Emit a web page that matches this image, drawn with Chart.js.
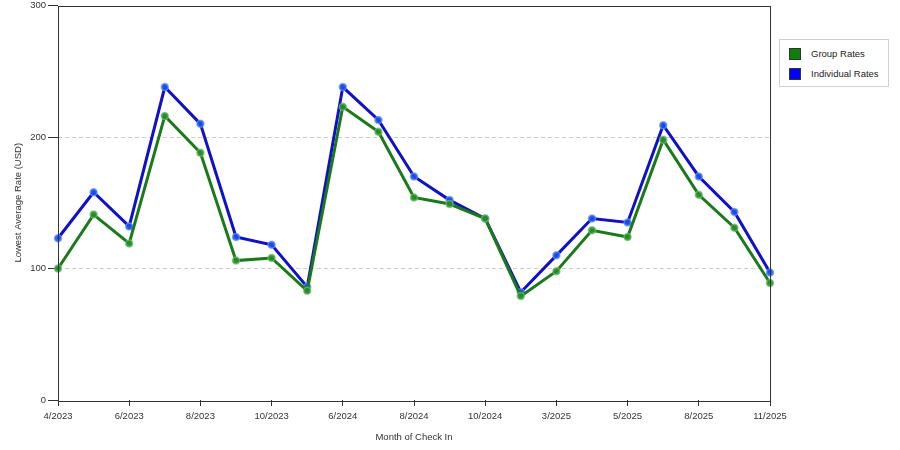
<!DOCTYPE html>
<html>
<head>
<meta charset="utf-8">
<script src="https://cdn.jsdelivr.net/npm/chart.js@4.4.1/dist/chart.umd.min.js"></script>
<style>
    body { margin: 0; background: #fff; }
    #wrap { position: relative; width: 900px; height: 450px; }
    #legend {
        position: absolute; left: 779px; top: 39px; width: 108px; height: 46px;
        border: 1px solid #d0d0d0; background: #fff;
        font: 9.5px "Liberation Sans", Arial, sans-serif; color: #222;
    }
    .item { position: absolute; left: 9px; height: 12px; line-height: 12px; }
    .box { position: absolute; left: 0; top: 0; width: 12px; height: 12px; box-sizing: border-box; border: 1px solid #333; }
    .item span { position: absolute; left: 22px; top: 0; white-space: nowrap; }
</style>
</head>
<body>
<div id="wrap">
    <canvas id="chart" width="900" height="450"></canvas>
    <div id="legend">
        <div class="item" style="top:8px"><div class="box" style="background:#0b800b"></div><span>Group Rates</span></div>
        <div class="item" style="top:28px"><div class="box" style="background:#0000ff"></div><span>Individual Rates</span></div>
    </div>
</div>
<script>
// months of check in (only every other label is printed on the axis)
const months = [
    "4/2023", "5/2023", "6/2023", "7/2023", "8/2023", "9/2023", "10/2023", "11/2023",
    "6/2024", "7/2024", "8/2024", "9/2024", "10/2024", "12/2024",
    "3/2025", "4/2025", "5/2025", "7/2025", "8/2025", "10/2025", "11/2025"
];

const groupRates = [
    100, 141, 119, 216, 188, 106, 108, 83,
    223, 204, 154, 149, 138, 79,
    98, 129, 124, 198, 156, 131, 89
];

const individualRates = [
    123, 158, 132, 238, 210, 124, 118, 86,
    238, 213, 170, 152, 138, 82,
    110, 138, 135, 209, 170, 143, 97
];

const yTicks = [0, 100, 200, 300];

const FONT = { family: "'Liberation Sans', Arial, sans-serif", size: 9.5 };

// solid frame around the plot area
const frame = {
    id: "frame",
    afterDraw (chart) {
        const { ctx, chartArea: a } = chart;
        ctx.save();
        ctx.strokeStyle = "#333";
        ctx.lineWidth = 1;
        ctx.strokeRect(Math.round(a.left) + 0.5, Math.round(a.top) + 0.5,
            Math.round(a.right - a.left), Math.round(a.bottom - a.top));
        ctx.restore();
    }
};

new Chart(document.getElementById("chart").getContext("2d"), {
    type: "line",
    data: {
        labels: months,
        datasets: [{
            label: "Group Rates",
            data: groupRates,
            borderColor: "#1a7a1a",
            borderWidth: 3,
            pointRadius: 3.5,
            pointBorderWidth: 1.5,
            pointBackgroundColor: "rgba(40,140,40,0.9)",
            pointBorderColor: "rgba(110,190,110,0.7)",
            fill: false,
            tension: 0,
            clip: false
        }, {
            label: "Individual Rates",
            data: individualRates,
            borderColor: "#1010c8",
            borderWidth: 3,
            pointRadius: 3.5,
            pointBorderWidth: 1.5,
            pointBackgroundColor: "rgba(30,80,230,0.9)",
            pointBorderColor: "rgba(100,150,255,0.7)",
            fill: false,
            tension: 0,
            clip: false
        }]
    },
    options: {
        responsive: false,
        animation: false,
        layout: { padding: { left: 0, top: 3, right: 130, bottom: 0 } },
        plugins: {
            legend: { display: false },
            tooltip: { enabled: false }
        },
        scales: {
            x: {
                offset: false,
                afterFit (scale) { scale.height = 50; },
                border: { display: false },
                grid: {
                    drawOnChartArea: false,
                    tickLength: 6,
                    tickColor: (ctx) => (ctx.index % 2 === 0 ? "#333" : "rgba(0,0,0,0)")
                },
                ticks: {
                    autoSkip: false,
                    maxRotation: 0,
                    padding: 5,
                    color: "#333",
                    font: FONT,
                    callback (value, index) { return index % 2 === 0 ? months[index] : ""; }
                },
                title: {
                    display: true,
                    text: "Month of Check In",
                    color: "#333",
                    font: FONT,
                    padding: { top: 0, bottom: 7 }
                }
            },
            y: {
                min: 0,
                max: 300,
                afterFit (scale) {
                    scale.width = 58;
                    scale.paddingTop = 0;
                    scale.paddingBottom = 0;
                },
                afterBuildTicks (scale) { scale.ticks = yTicks.map(v => ({ value: v })); },
                border: { display: false, dash: [4, 3] },
                grid: {
                    color: (ctx) => (ctx.tick && (ctx.tick.value === 100 || ctx.tick.value === 200)) ? "#cccccc" : "rgba(0,0,0,0)",
                    tickColor: "#333",
                    tickLength: 10,
                    tickBorderDash: []
                },
                ticks: { padding: 2, color: "#333", font: FONT },
                title: {
                    display: true,
                    text: "Lowest Average Rate (USD)",
                    color: "#333",
                    font: FONT,
                    padding: { top: 13, bottom: 0 }
                }
            }
        }
    },
    plugins: [frame]
});
</script>
</body>
</html>
